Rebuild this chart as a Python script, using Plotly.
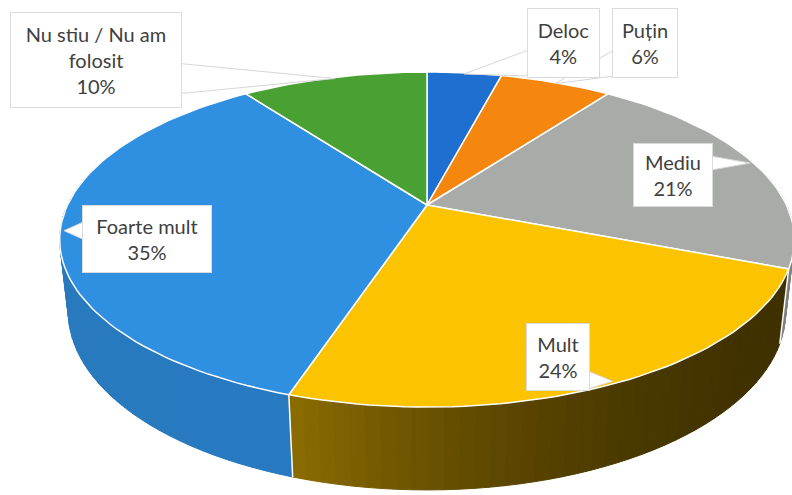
import math
import plotly.graph_objects as go

# ---- data ----
labels = ["Deloc", "Puțin", "Mediu", "Mult", "Foarte mult", "Nu stiu / Nu am folosit"]
values = [4, 6, 21, 24, 35, 10]
label_text = ["Deloc<br>4%", "Puțin<br>6%", "Mediu<br>21%", "Mult<br>24%",
              "Foarte mult<br>35%", "Nu stiu / Nu am<br>folosit<br>10%"]

# ---- style ----
top_colors = ["#1f6fd0", "#f5870f", "#a9aba8", "#fcc300", "#2f8fe0", "#4aa133"]
side_dark = [(0.80, 0.80), (0.8, 0.8), (0.75, 0.75), (0.56, 0.25), (0.86, 0.84), (0.8, 0.8)]
pointer_halfwidth = [13, 13, 7, 9, 9, 15]

W, H = 792, 495
CX, CY = 427, 205
F = 1560.0
D = 4.34
PHI = math.radians(26.5)
S, C = math.sin(PHI), math.cos(PHI)
DEPTH = 0.225

def proj(theta_deg, z, r=1.0):
    t = math.radians(theta_deg)
    X = r * math.sin(t)
    Y = r * math.cos(t)
    v = Y * S + z * C
    w = D + Y * C - z * S
    return CX + F * X / w, CY - F * v / w

def hex2rgb(h):
    h = h.lstrip("#")
    return tuple(int(h[i:i + 2], 16) for i in (0, 2, 4))

def shade(h, k):
    r, g, b = hex2rgb(h)
    return "rgb(%d,%d,%d)" % (int(r * k), int(g * k), int(b * k))

total = float(sum(values))
bounds = [0.0]
for v in values:
    bounds.append(bounds[-1] + v / total * 360.0)

fig = go.Figure()

# side walls (front part), back to front
segs = []
for i in range(len(values)):
    a0, a1 = bounds[i], bounds[i + 1]
    n = max(2, int((a1 - a0) / 2))
    for j in range(n):
        t0 = a0 + (a1 - a0) * j / n
        t1 = a0 + (a1 - a0) * (j + 1) / n
        tm = (t0 + t1) / 2
        if math.cos(math.radians(tm)) > 0.35:
            continue
        frac = (tm - a0) / (a1 - a0) if a1 > a0 else 0
        k0, k1 = side_dark[i]
        if i == 3:
            k = k1 + (k0 - k1) * frac ** 2.5
        else:
            k = k0 + (k1 - k0) * frac
        segs.append((math.cos(math.radians(tm)), t0, t1, shade(top_colors[i], k)))
segs.sort(key=lambda s: -s[0])
for _, t0, t1, col in segs:
    pts = [proj(t0, 0), proj(t1, 0), proj(t1, -DEPTH), proj(t0, -DEPTH)]
    xs = [p[0] for p in pts] + [pts[0][0]]
    ys = [p[1] for p in pts] + [pts[0][1]]
    fig.add_trace(go.Scatter(x=xs, y=ys, mode="lines", fill="toself", fillcolor=col,
                             line=dict(color=col, width=1), hoverinfo="skip", showlegend=False))

# white vertical edge at slice boundaries on visible side
for b in bounds[1:-1]:
    if math.cos(math.radians(b)) < -0.2:
        p0, p1 = proj(b, 0), proj(b, -DEPTH)
        fig.add_trace(go.Scatter(x=[p0[0], p1[0]], y=[p0[1], p1[1]], mode="lines",
                                 line=dict(color="white", width=1.5), hoverinfo="skip", showlegend=False))

# top faces
for i in range(len(values)):
    a0, a1 = bounds[i], bounds[i + 1]
    n = max(4, int((a1 - a0) / 1.5))
    pts = [proj(0, 0, 0)] + [proj(a0 + (a1 - a0) * j / n, 0) for j in range(n + 1)] + [proj(0, 0, 0)]
    fig.add_trace(go.Scatter(x=[p[0] for p in pts], y=[p[1] for p in pts], mode="lines",
                             fill="toself", fillcolor=top_colors[i],
                             line=dict(color="white", width=1.5), hoverinfo="skip",
                             showlegend=False, name=labels[i]))

# callout boxes: (center x, center y, width, height) in px
boxes = [(563, 43, 73, 70), (645, 43, 66, 70), (673, 175, 80, 64),
         (558, 357, 64, 68), (147, 239, 130, 68), (96, 60, 172, 96)]

for i, (bx, by, bw, bh) in enumerate(boxes):
    mid = (bounds[i] + bounds[i + 1]) / 2
    tx, ty = proj(mid, 0, 0.99)
    l, r, t, btm = bx - bw / 2, bx + bw / 2, by - bh / 2, by + bh / 2
    hw = pointer_halfwidth[i]
    if tx < l:
        yy = min(max(ty, t + hw + 2), btm - hw - 2)
        base = [(l + 2, yy - hw), (l + 2, yy + hw)]
    elif tx > r:
        yy = min(max(ty, t + hw + 2), btm - hw - 2)
        base = [(r - 2, yy - hw), (r - 2, yy + hw)]
    elif ty > btm:
        xx = min(max(tx, l + hw + 2), r - hw - 2)
        base = [(xx - hw, btm - 2), (xx + hw, btm - 2)]
    else:
        xx = min(max(tx, l + hw + 2), r - hw - 2)
        base = [(xx - hw, t + 2), (xx + hw, t + 2)]
    xs = [base[0][0], tx, base[1][0], base[0][0]]
    ys = [base[0][1], ty, base[1][1], base[0][1]]
    fig.add_trace(go.Scatter(x=xs, y=ys, mode="lines", fill="toself", fillcolor="white",
                             line=dict(color="#d6d6d6", width=1), hoverinfo="skip", showlegend=False))
    fig.add_annotation(x=bx, y=by, xref="x", yref="y", text=label_text[i], showarrow=False,
                       width=bw - 2, height=bh - 2, bgcolor="white", bordercolor="#dadada",
                       borderwidth=1, borderpad=0, align="center", valign="middle",
                       font=dict(family="Lato, Open Sans, sans-serif", size=20, color="#404040"))

fig.update_layout(width=W, height=H, margin=dict(l=0, r=0, t=0, b=0),
                  paper_bgcolor="white", plot_bgcolor="white", showlegend=False,
                  xaxis=dict(range=[0, W], visible=False, fixedrange=True),
                  yaxis=dict(range=[H, 0], visible=False, fixedrange=True))
fig.write_html("out.html", config={"displayModeBar": False},
               post_script="document.body.style.margin='0px';")
